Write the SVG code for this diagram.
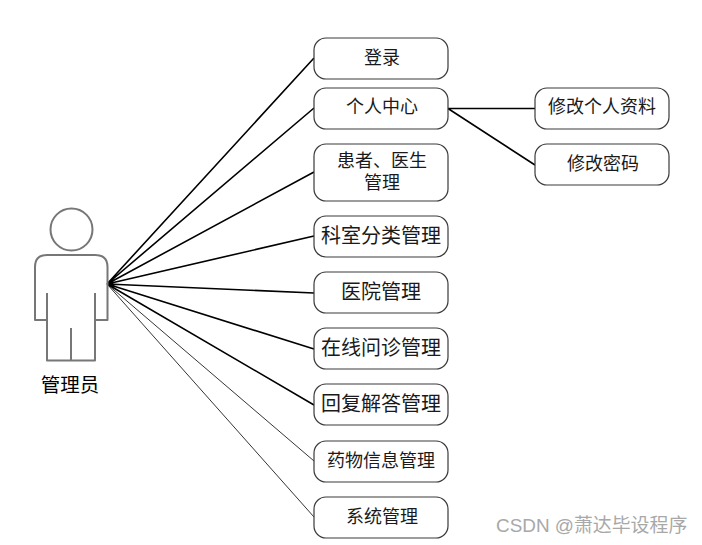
<svg xmlns="http://www.w3.org/2000/svg" width="702" height="545" viewBox="0 0 702 545">
<style>
.b{fill:#fff;stroke:#3a3a3a;stroke-width:1.2}
.t{font-family:"Liberation Sans","Noto Sans CJK SC",sans-serif;font-size:18px;fill:#1a1a1a;text-anchor:middle}
.w{font-size:20px}
.c{stroke:#000;fill:none}
.a{fill:none;stroke:#777;stroke-width:2;stroke-linejoin:round}
</style>
<rect width="702" height="545" fill="#fff"/>
<g id="connectors">
<path class="c" stroke-width="1.6" d="M107 284L314 58M107 284L314 108M107 284L314 172M107 284L314 236M107 284L314 293M107 284L314 349M107 284L314 405"/>
<path class="c" stroke-width="0.8" d="M107 284L314 461M107 284L314 517"/>
<path class="c" stroke-width="1.6" d="M448 108.500H535M448 108.500L535 165"/>
</g>
<g id="actor">
<circle class="a" cx="71.500" cy="229.500" r="21"/>
<path class="a" d="M47 255H95Q107.500 255 107.500 267V320H95V360.500H47V320H35V267Q35 255 47 255ZM47 293V360.500M95 293V360.500M71 328V360.500"/>
<text x="70" y="391.500" font-family="Liberation Sans,Noto Sans CJK SC,sans-serif" font-size="19.500" fill="#000" text-anchor="middle">管理员</text>
</g>
<g id="n1"><rect class="b" x="314" y="38" width="134" height="41" rx="12"/><text class="t" x="382" y="64">登录</text></g>
<g id="n2"><rect class="b" x="314" y="88" width="134" height="41" rx="12"/><text class="t" x="382" y="113">个人中心</text></g>
<g id="n3"><rect class="b" x="314" y="144" width="134" height="57" rx="12"/><text class="t" x="382" y="167">患者、医生</text><text class="t" x="382" y="189">管理</text></g>
<g id="n4"><rect class="b" x="314" y="216" width="134" height="41" rx="12"/><text class="t w" x="381" y="243">科室分类管理</text></g>
<g id="n5"><rect class="b" x="314" y="272" width="134" height="41" rx="12"/><text class="t w" x="381" y="299">医院管理</text></g>
<g id="n6"><rect class="b" x="314" y="328" width="134" height="41" rx="12"/><text class="t w" x="381" y="355">在线问诊管理</text></g>
<g id="n7"><rect class="b" x="314" y="384" width="134" height="41" rx="12"/><text class="t w" x="381" y="411">回复解答管理</text></g>
<g id="n8"><rect class="b" x="314" y="441" width="134" height="41" rx="12"/><text class="t" x="381" y="467">药物信息管理</text></g>
<g id="n9"><rect class="b" x="314" y="497" width="134" height="41" rx="12"/><text class="t" x="382" y="523">系统管理</text></g>
<g id="n10"><rect class="b" x="535" y="88" width="134" height="41" rx="12"/><text class="t" x="602" y="113">修改个人资料</text></g>
<g id="n11"><rect class="b" x="535" y="144" width="134" height="41" rx="12"/><text class="t" x="603" y="170">修改密码</text></g>
<text id="watermark" x="496" y="532" font-family="Liberation Sans,Noto Sans CJK SC,sans-serif" font-size="18.900" fill="#a8a8a8">CSDN @萧达毕设程序</text>
</svg>
